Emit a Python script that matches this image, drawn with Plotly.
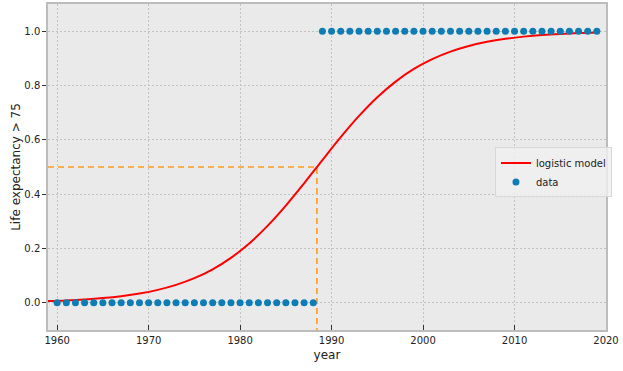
import plotly.graph_objects as go

# data: binary indicator (life expectancy > 75) by year
years = list(range(1960, 2020))
above75 = [0] * 29 + [1] * 31  # 1960-1988 -> 0, 1989-2019 -> 1

# logistic model curve values (every 2 years)
model_years = [1959, 1961, 1963, 1965, 1967, 1969, 1971, 1973, 1975, 1977, 1979,
               1981, 1983, 1985, 1987, 1989, 1991, 1993, 1995, 1997, 1999, 2001,
               2003, 2005, 2007, 2009, 2011, 2013, 2015, 2017, 2019]
model_vals = [0.0063, 0.0089, 0.0125, 0.0176, 0.0246, 0.0343, 0.0478, 0.0661, 0.0907,
              0.1234, 0.1656, 0.2188, 0.2831, 0.3578, 0.4400, 0.5257, 0.6099, 0.6880,
              0.7568, 0.8144, 0.8610, 0.8973, 0.9249, 0.9456, 0.9608, 0.9719, 0.9799,
              0.9857, 0.9898, 0.9928, 0.9948]

threshold = 0.5
x_mid = 1988.4
x_range = [1959.0, 2020.0]
y_range = [-0.1, 1.1]

fig = go.Figure()

fig.add_trace(go.Scatter(
    x=[x_range[0], x_mid, x_mid], y=[threshold, threshold, y_range[0]],
    mode="lines", line=dict(color="#ff9a22", width=1.6, dash="6px,4px"),
    showlegend=False, hoverinfo="skip"))

fig.add_trace(go.Scatter(
    x=model_years, y=model_vals, mode="lines", name="logistic model",
    line=dict(color="#ff0000", width=2, shape="spline")))

fig.add_trace(go.Scatter(
    x=years, y=above75, mode="markers", name="data",
    marker=dict(color="#0f7db3", size=7)))

fig.update_layout(
    width=623, height=371,
    margin=dict(l=48, r=17, t=4, b=41),
    paper_bgcolor="white", plot_bgcolor="#eaeaea",
    font=dict(family="DejaVu Sans", size=10, color="#222222"),
    legend=dict(x=0.801, y=0.56, xanchor="left", yanchor="top",
                bgcolor="rgba(240,240,240,0.8)", bordercolor="#d8d8d8", borderwidth=1,
                font=dict(size=10), itemwidth=30, tracegroupgap=0),
    showlegend=True,
)

fig.update_xaxes(
    range=x_range, tickvals=[1960, 1970, 1980, 1990, 2000, 2010, 2020],
    ticks="inside", ticklen=5, tickcolor="#333333",
    showgrid=True, gridcolor="#c2c2c2", griddash="2px,2px", gridwidth=0.8,
    showline=True, linecolor="#bcbcbc", linewidth=1.5, mirror=True,
    zeroline=False, automargin=False,
    title=dict(text="year", font=dict(size=12), standoff=6),
)
fig.update_yaxes(
    range=y_range, tickvals=[0, 0.2, 0.4, 0.6, 0.8, 1.0], tickformat=".1f",
    ticks="outside", ticklen=4, tickcolor="#333333",
    showgrid=True, gridcolor="#c2c2c2", griddash="2px,2px", gridwidth=0.8,
    showline=True, linecolor="#bcbcbc", linewidth=1.5, mirror=True,
    zeroline=False, automargin=False,
    title=dict(text="Life expectancy > 75", font=dict(size=12), standoff=1),
)

fig.write_html("out.html", post_script="document.body.style.margin='0';",
               config={"displayModeBar": False})
